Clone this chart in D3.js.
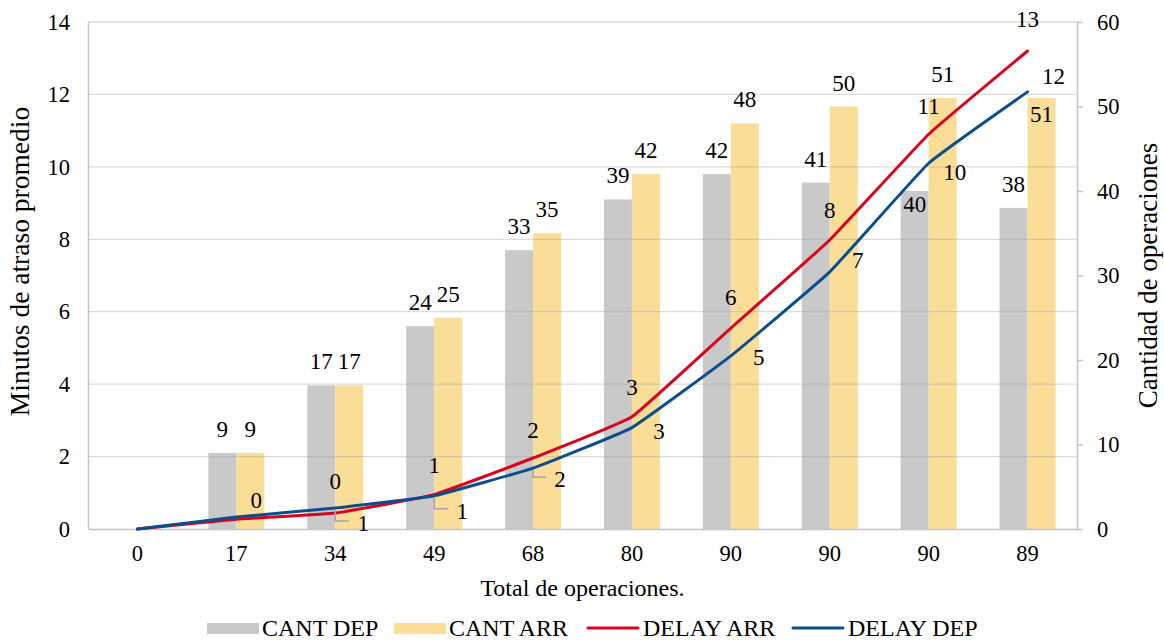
<!DOCTYPE html>
<html>
<head>
<meta charset="utf-8">
<script src="https://cdn.jsdelivr.net/npm/d3@7"></script>
<style>
  body { margin: 0; background: #fff; }
  svg text { font-family: "Liberation Serif", "Times New Roman", serif; fill: #000; }
</style>
</head>
<body>
<div id="vis"></div>
<script>
// Chart size
const FRAME_WIDTH = 1164;
const FRAME_HEIGHT = 640;
const MARGINS = {left: 88, right: 87, top: 22, bottom: 111};

// Data
const categories = ["0", "17", "34", "49", "68", "80", "90", "90", "90", "89"];
const cantDep = [null, 9, 17, 24, 33, 39, 42, 41, 40, 38];
const cantArr = [null, 9, 17, 25, 35, 42, 48, 50, 51, 51];
const delayArr = [0, 0.27, 0.44, 0.95, 1.96, 3.1, 5.55, 7.98, 10.9, 13.2];
const delayDep = [0, 0.33, 0.58, 0.92, 1.68, 2.8, 4.78, 7.1, 10.1, 12.07];
const leftTicks = [0, 2, 4, 6, 8, 10, 12, 14];
const rightTicks = [0, 10, 20, 30, 40, 50, 60];

// label placement (offsets in px from the point, like Excel's moved labels)
const arrLabelOff = [null, [20, -19], [0, -32], [0, -30], [0, -28], [0, -30], [0, -31], [0, -30], [0, -28], [0, -32]];
const depLabelOff = [null, null, [28, 15], [28, 15], [27, 11], [27, 3], [28, 1], [28, -12], [26, 9], [26, -16]];
const depLeader = [false, false, true, true, true, false, false, false, false, false];
const depBarInside = [false, false, false, false, false, false, false, false, true, false];
const arrBarInside = [false, false, false, false, false, false, false, false, false, true];

const COLORS = {dep: "#c9c9c9", arr: "#fadd97", red: "#d8041f", blue: "#0b4e8b"};
const LABEL_SIZE = "23px";

const FRAME = d3.select("#vis")
  .append("svg")
    .attr("width", FRAME_WIDTH)
    .attr("height", FRAME_HEIGHT);

const X_SCALE = d3.scaleBand()
  .domain(d3.range(categories.length))
  .range([MARGINS.left, FRAME_WIDTH - MARGINS.right]);

const Y_LEFT = d3.scaleLinear()
  .domain([0, 14])
  .range([FRAME_HEIGHT - MARGINS.bottom, MARGINS.top]);

const Y_RIGHT = d3.scaleLinear()
  .domain([0, 60])
  .range([FRAME_HEIGHT - MARGINS.bottom, MARGINS.top]);

const barW = X_SCALE.bandwidth() * 0.283;
const cx = (i) => X_SCALE(i) + X_SCALE.bandwidth() / 2;

// bars
const barData = d3.range(categories.length).filter(i => cantDep[i] != null);

FRAME.selectAll(".barDep")
  .data(barData)
  .enter()
  .append("rect")
    .attr("x", i => cx(i) - barW)
    .attr("y", i => Y_RIGHT(cantDep[i]))
    .attr("width", barW)
    .attr("height", i => Y_RIGHT(0) - Y_RIGHT(cantDep[i]))
    .attr("fill", COLORS.dep);

FRAME.selectAll(".barArr")
  .data(barData)
  .enter()
  .append("rect")
    .attr("x", i => cx(i))
    .attr("y", i => Y_RIGHT(cantArr[i]))
    .attr("width", barW)
    .attr("height", i => Y_RIGHT(0) - Y_RIGHT(cantArr[i]))
    .attr("fill", COLORS.arr);

// gridlines (drawn over bars, semi-transparent)
FRAME.append("g")
  .selectAll("line")
  .data(leftTicks.slice(1))
  .enter()
  .append("line")
    .attr("x1", MARGINS.left)
    .attr("x2", FRAME_WIDTH - MARGINS.right)
    .attr("y1", d => Y_LEFT(d))
    .attr("y2", d => Y_LEFT(d))
    .attr("stroke", "#a6a6a6")
    .attr("stroke-opacity", 0.4)
    .attr("stroke-width", 1.3);

// left axis
const leftAxis = FRAME.append("g")
  .attr("transform", "translate(" + MARGINS.left + ",0)")
  .call(d3.axisLeft(Y_LEFT).tickValues(leftTicks).tickSize(0).tickPadding(18));
leftAxis.attr("font-family", null).attr("font-size", 22.5);
leftAxis.select(".domain").attr("stroke", "#c4c4c4").attr("stroke-width", 1.5);

// right axis
const rightAxis = FRAME.append("g")
  .attr("transform", "translate(" + (FRAME_WIDTH - MARGINS.right) + ",0)")
  .call(d3.axisRight(Y_RIGHT).tickValues(rightTicks).tickSizeInner(6).tickSizeOuter(0).tickPadding(14));
rightAxis.attr("font-family", null).attr("font-size", 22.5);
rightAxis.select(".domain").attr("stroke", "#c4c4c4").attr("stroke-width", 1.5);
rightAxis.selectAll("line").attr("stroke", "#c4c4c4").attr("stroke-width", 1.5);

// bottom axis
const bottomAxis = FRAME.append("g")
  .attr("transform", "translate(0," + (FRAME_HEIGHT - MARGINS.bottom) + ")")
  .call(d3.axisBottom(X_SCALE).tickFormat(i => categories[i]).tickSize(0).tickPadding(16));
bottomAxis.attr("font-family", null).attr("font-size", 22.5);
bottomAxis.select(".domain").attr("stroke", "#c4c4c4").attr("stroke-width", 1.5);

// lines
const lineGen = (vals) => d3.line()
  .x(i => cx(i))
  .y(i => Y_LEFT(vals[i]))
  .curve(d3.curveCardinal.tension(0.7))(d3.range(vals.length));

FRAME.append("path")
  .attr("d", lineGen(delayArr))
  .attr("fill", "none")
  .attr("stroke", COLORS.red)
  .attr("stroke-width", 3)
  .attr("stroke-linecap", "round");

FRAME.append("path")
  .attr("d", lineGen(delayDep))
  .attr("fill", "none")
  .attr("stroke", COLORS.blue)
  .attr("stroke-width", 3)
  .attr("stroke-linecap", "round");

// bar labels
FRAME.selectAll(".lblDep")
  .data(barData)
  .enter()
  .append("text")
    .attr("x", i => cx(i) - barW / 2)
    .attr("y", i => Y_RIGHT(cantDep[i]) + (depBarInside[i] ? 21 : -16))
    .attr("text-anchor", "middle")
    .attr("font-size", LABEL_SIZE)
    .text(i => cantDep[i]);

FRAME.selectAll(".lblArr")
  .data(barData)
  .enter()
  .append("text")
    .attr("x", i => cx(i) + barW / 2)
    .attr("y", i => Y_RIGHT(cantArr[i]) + (arrBarInside[i] ? 24 : -16))
    .attr("text-anchor", "middle")
    .attr("font-size", LABEL_SIZE)
    .text(i => cantArr[i]);

// line labels
const lineIdx = d3.range(1, categories.length);

FRAME.selectAll(".leader")
  .data(lineIdx.filter(i => depLeader[i]))
  .enter()
  .append("polyline")
    .attr("points", i => {
      const x0 = cx(i), y0 = Y_LEFT(delayDep[i]);
      const ly = y0 + depLabelOff[i][1];
      const lx = x0 + depLabelOff[i][0];
      return [[x0, y0 + 2], [x0, ly - 2], [lx - 14, ly - 2]].map(p => p.join(",")).join(" ");
    })
    .attr("fill", "none")
    .attr("stroke", "#a6a6a6")
    .attr("stroke-width", 1.5);

FRAME.selectAll(".lblRed")
  .data(lineIdx)
  .enter()
  .append("text")
    .attr("x", i => cx(i) + arrLabelOff[i][0])
    .attr("y", i => Y_LEFT(delayArr[i]) + arrLabelOff[i][1])
    .attr("dy", "0.35em")
    .attr("text-anchor", "middle")
    .attr("font-size", LABEL_SIZE)
    .text(i => Math.round(delayArr[i]));

FRAME.selectAll(".lblBlue")
  .data(lineIdx.filter(i => depLabelOff[i] != null))
  .enter()
  .append("text")
    .attr("x", i => cx(i) + depLabelOff[i][0])
    .attr("y", i => Y_LEFT(delayDep[i]) + depLabelOff[i][1])
    .attr("dy", "0.35em")
    .attr("text-anchor", "middle")
    .attr("font-size", LABEL_SIZE)
    .text(i => Math.round(delayDep[i]));

// axis titles
const midY = (MARGINS.top + FRAME_HEIGHT - MARGINS.bottom) / 2;
FRAME.append("text")
  .attr("transform", "translate(29," + (midY - 14) + ") rotate(-90)")
  .attr("text-anchor", "middle")
  .attr("font-size", "27.5px")
  .text("Minutos de atraso promedio");

FRAME.append("text")
  .attr("transform", "translate(1157," + midY + ") rotate(-90)")
  .attr("text-anchor", "middle")
  .attr("font-size", "27px")
  .text("Cantidad de operaciones");

FRAME.append("text")
  .attr("x", (MARGINS.left + FRAME_WIDTH - MARGINS.right) / 2)
  .attr("y", 596)
  .attr("text-anchor", "middle")
  .attr("font-size", "24px")
  .text("Total de operaciones.");

// legend
const legendItems = [
  {name: "CANT DEP", type: "rect", color: COLORS.dep, x: 207},
  {name: "CANT ARR", type: "rect", color: COLORS.arr, x: 394},
  {name: "DELAY ARR", type: "line", color: COLORS.red, x: 588},
  {name: "DELAY DEP", type: "line", color: COLORS.blue, x: 793}
];
const legend = FRAME.append("g");
legendItems.forEach(d => {
  if (d.type == "rect") {
    legend.append("rect")
      .attr("x", d.x).attr("y", 623).attr("width", 52).attr("height", 11)
      .attr("fill", d.color);
  } else {
    legend.append("line")
      .attr("x1", d.x).attr("x2", d.x + 50).attr("y1", 628).attr("y2", 628)
      .attr("stroke", d.color).attr("stroke-width", 3).attr("stroke-linecap", "round");
  }
  legend.append("text")
    .attr("x", d.x + 55)
    .attr("y", 636)
    .attr("font-size", "24px")
    .text(d.name);
});
</script>
</body>
</html>
